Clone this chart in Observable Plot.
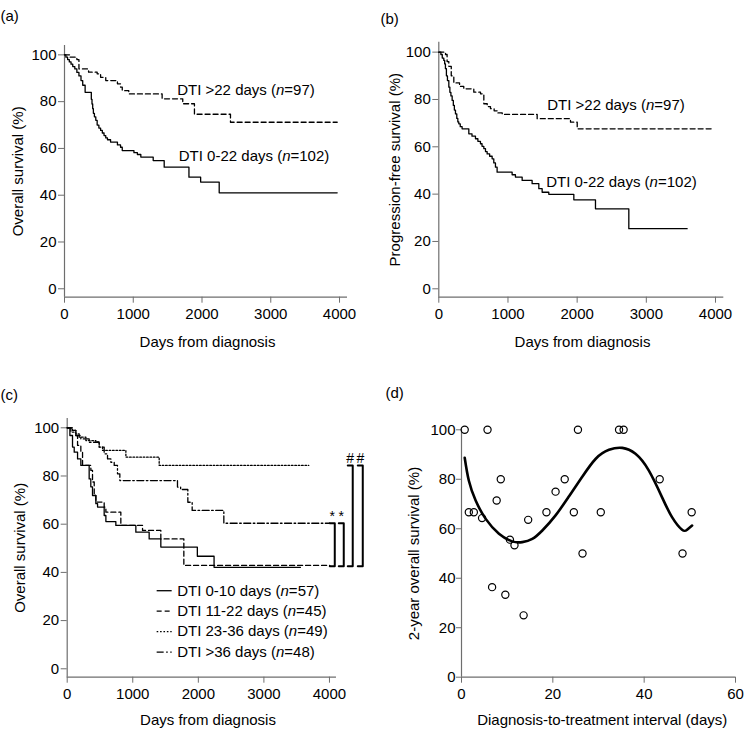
<!DOCTYPE html>
<html><head><meta charset="utf-8">
<script src="https://cdn.jsdelivr.net/npm/d3@7"></script>
<script src="https://cdn.jsdelivr.net/npm/@observablehq/plot@0.6"></script>
<style>
body{margin:0;background:#fff;}
#fig{position:relative;width:749px;height:737px;background:#fff;overflow:hidden;}
#fig svg{position:absolute;}
</style></head><body><div id="fig"></div>
<script>
// ---------- Panel (a): overall survival by DTI (2 groups) ----------
const osEarlyDays = [0, 20, 45, 70, 95, 120, 150, 180, 210, 240, 265, 300, 390, 400, 410, 420, 435, 455, 475, 500, 525, 550, 575, 600, 625, 670, 770, 815, 840, 1010, 1060, 1110, 1290, 1450, 1810, 1980, 2250, 3966];
const osEarlySurv = [100, 99, 98, 97, 96, 95, 94, 92.5, 91, 89, 87, 84, 81, 79, 77, 75, 73.5, 72, 70, 68.7, 67.7, 66.6, 65.5, 64.5, 63.7, 62.7, 61.5, 60.5, 59.1, 58.2, 57.4, 56.3, 54.8, 52, 47.7, 45.6, 41, 41];
const osLateDays = [0, 80, 180, 210, 350, 475, 525, 600, 770, 815, 840, 935, 1420, 1720, 1890, 2414, 3966];
const osLateSurv = [100, 99, 98, 94, 92.6, 91.9, 90.4, 89, 87.6, 86.2, 84.7, 83.3, 81.2, 79.1, 74.6, 71.2, 71.2];

// ---------- Panel (b): progression-free survival (2 groups) ----------
const pfsEarlyDays = [0, 30, 50, 72, 85, 96, 110, 125, 145, 160, 175, 193, 210, 225, 241, 260, 275, 289, 310, 337, 434, 480, 530, 565, 602, 625, 651, 675, 699, 735, 771, 795, 819, 843, 1060, 1108, 1205, 1349, 1446, 1494, 1590, 1952, 2265, 2747, 3590];
const pfsEarlySurv = [100, 99, 97.5, 96.5, 95, 93, 90, 88, 85.2, 83, 81.5, 79.6, 77.5, 75.5, 73.9, 72, 70.5, 69.7, 68.5, 67.6, 65.5, 64.5, 63.4, 62.3, 61.3, 60.2, 59.2, 58, 57, 56, 54.9, 53.2, 51.4, 49.3, 48.2, 47.2, 45.8, 44.4, 42.3, 40.8, 39.9, 37.6, 33.8, 25.4, 25.4];
const pfsLateDays = [0, 97, 120, 145, 180, 217, 300, 361, 506, 603, 651, 700, 747, 800, 844, 917, 1422, 1904, 2001, 3952];
const pfsLateSurv = [100, 99, 96, 94, 90, 87, 85.5, 84.5, 83.1, 82.4, 78.2, 77, 76.1, 75.2, 74.3, 73.7, 71.9, 70.4, 67.6, 67.6];

// ---------- Panel (c): overall survival by DTI quartile ----------
const q1Days = [0, 41, 81, 107, 158, 208, 335, 360, 386, 437, 463, 564, 590, 742, 1047, 1250, 1428, 1985, 2240, 3558];
const q1Surv = [100, 96.8, 92, 89.9, 87.1, 84.4, 78.8, 75.5, 71.9, 68.5, 67.1, 63.6, 61.1, 59.5, 56.7, 53.9, 50.5, 46.7, 42.1, 42.1];
const q2Days = [0, 81, 132, 158, 208, 234, 361, 386, 412, 437, 564, 590, 818, 1149, 1428, 1779, 4005];
const q2Surv = [100, 98.9, 96.8, 92.7, 89.9, 84.4, 82.3, 77.5, 71.9, 69.2, 67.1, 65.0, 59.5, 57.4, 53.9, 42.9, 42.9];
const q3Days = [0, 81, 132, 183, 285, 437, 488, 539, 895, 1403, 3684];
const q3Surv = [100, 98.9, 97.5, 96.1, 94.7, 94.1, 92, 90.6, 87.8, 84.4, 84.4];
const q4Days = [0, 56, 132, 208, 335, 488, 564, 615, 666, 717, 767, 803, 1682, 1730, 1840, 1906, 2389, 4005];
const q4Surv = [100, 98.2, 96.8, 95.4, 94, 92, 89.2, 87.1, 85.7, 84.4, 80.9, 78.1, 75.4, 74.4, 69.1, 65.7, 60.4, 60.4];
const quartileLabels = ["DTI 0-10 days (n=57)", "DTI 11-22 days (n=45)", "DTI 23-36 days (n=49)", "DTI >36 days (n=48)"];
// significance brackets: vertical position (days), top and bottom survival level, symbol
const bracketDays = [4081, 4218, 4355, 4508];
const bracketTop = [60.4, 60.4, 84.4, 84.4];
const bracketBottom = [42.5, 42.5, 42.5, 42.5];
const bracketSymbols = ["*", "*", "#", "#"];

// ---------- Panel (d): 2-year OS vs DTI ----------
const dtiDays = [0.7, 1.6, 2.7, 4.5, 5.7, 6.7, 7.7, 8.6, 9.6, 10.6, 11.6, 13.6, 14.6, 18.6, 20.6, 22.6, 24.6, 25.5, 26.5, 30.5, 34.5, 35.5, 43.4, 48.4, 50.4];
const os2yr = [100, 66.7, 66.7, 64.3, 100, 36.4, 71.4, 80, 33.3, 55.6, 53.3, 25, 63.6, 66.7, 75, 80, 66.7, 100, 50, 66.7, 100, 100, 80, 50, 66.7];
const fitDays = [0.7, 1.6, 3.1, 5.3, 8.2, 11.1, 13.3, 15.5, 17.7, 20.6, 23.5, 26.4, 29.4, 32.3, 35.2, 38.1, 41.0, 43.9, 46.1, 48.3, 49.4, 50.5];
const fitOS = [88.7, 79.5, 71.4, 64.0, 58.0, 54.9, 54.6, 55.9, 59.3, 65.4, 73.0, 80.9, 88.3, 91.9, 92.7, 90.3, 83.6, 72.8, 64.7, 59.6, 59.6, 61.3];

const kmTicks = [0, 1000, 2000, 3000, 4000];
const pctTicks = [0, 20, 40, 60, 80, 100];
const dtiTicks = [0, 20, 40, 60];

// ---------- helpers ----------
const FONT = '"Liberation Sans", Arial, Helvetica, sans-serif';
const AXIS = "#6e6e6e";
const pts = (xs, ys) => xs.map((x, i) => ({x, y: ys[i]}));

function italicN(svg) {
  svg.querySelectorAll("text").forEach(t => {
    if (t.childElementCount === 0 && t.textContent.includes("(n=")) {
      const [before, after] = t.textContent.split("(n=");
      t.textContent = "";
      t.appendChild(document.createTextNode(before + "("));
      const ts = document.createElementNS("http://www.w3.org/2000/svg", "tspan");
      ts.setAttribute("font-style", "italic");
      ts.textContent = "n";
      t.appendChild(ts);
      t.appendChild(document.createTextNode("=" + after));
    }
  });
}

function panel(cfg) {
  const {left, top, width, height, ml, mr, mt, mb, xDomain, yDomain, xAxisEnd, xTicks, yTicks,
         marks, xTitle, yTitle, xTitleX, xTitleDy, yTitleX, tag, tagX, tagBase,
         yTickSize = 6, yTickPad = 2, xTickPad = 5} = cfg;
  const svg = Plot.plot({
    width, height, marginLeft: ml, marginRight: mr, marginTop: mt, marginBottom: mb,
    x: {domain: xDomain}, y: {domain: yDomain},
    style: {fontFamily: FONT, fontSize: "15px", color: "black", background: "transparent", overflow: "visible"},
    marks: [
      Plot.ruleX([xDomain[0]], {y1: yDomain[0], y2: yDomain[1], stroke: AXIS, strokeWidth: 1.2}),
      Plot.ruleY([yDomain[0]], {x1: xDomain[0], x2: xAxisEnd, stroke: AXIS, strokeWidth: 1.2}),
      Plot.axisX(xTicks, {tickSize: 6, tickPadding: xTickPad, stroke: AXIS, fill: "black", label: null, fontSize: 15, tickFormat: d => String(d)}),
      Plot.axisY(yTicks, {tickSize: yTickSize, tickPadding: yTickPad, stroke: AXIS, fill: "black", label: null, fontSize: 15, tickFormat: d => String(d)}),
      ...marks,
      Plot.text([xTitle], {frameAnchor: "bottom-left", dx: xTitleX - ml, dy: xTitleDy, textAnchor: "middle", lineAnchor: "bottom", fontSize: 15}),
      Plot.text([yTitle], {frameAnchor: "left", rotate: -90, dx: yTitleX - ml, textAnchor: "middle", lineAnchor: "middle", fontSize: 15}),
      Plot.text([tag], {frameAnchor: "top-left", dx: tagX - ml, dy: tagBase - mt, textAnchor: "start", lineAnchor: "bottom", fontSize: 15})
    ]
  });
  svg.style.left = left + "px";
  svg.style.top = top + "px";
  italicN(svg);
  document.getElementById("fig").appendChild(svg);
}

const km = (xs, ys, dash, w = 1.3) => Plot.line(pts(xs, ys), {x: "x", y: "y", curve: "step-after", stroke: "black", strokeWidth: w, strokeDasharray: dash});
const DASH = "5,3", DOT = "1.6,1.8", DASHDOT = "7,2.5,1.6,2.5";

// (a)
panel({
  left: 0, top: 0, width: 374, height: 360, ml: 64, mr: 27, mt: 45, mb: 63.3,
  xDomain: [0, 4116], yDomain: [-3.6, 104], xAxisEnd: 4116, xTicks: kmTicks, yTicks: pctTicks,
  marks: [
    km(osEarlyDays, osEarlySurv, null),
    km(osLateDays, osLateSurv, DASH),
    Plot.text(["DTI >22 days (n=97)"], {x: 1639, y: 82.9, textAnchor: "start", lineAnchor: "bottom", fontSize: 15}),
    Plot.text(["DTI 0-22 days (n=102)"], {x: 1662, y: 54.5, textAnchor: "start", lineAnchor: "bottom", fontSize: 15})
  ],
  xTitle: "Days from diagnosis", yTitle: "Overall survival (%)",
  xTitleX: 207, xTitleDy: 50, yTitleX: 18, tag: "(a)", tagX: 0, tagBase: 20
});

// (b)
panel({
  left: 375, top: 0, width: 374, height: 360, ml: 63.3, mr: 25.7, mt: 41.7, mb: 63.3,
  xDomain: [0, 4120], yDomain: [-3.55, 104.2], xAxisEnd: 4120, xTicks: kmTicks, yTicks: pctTicks,
  marks: [
    km(pfsEarlyDays, pfsEarlySurv, null),
    km(pfsLateDays, pfsLateSurv, DASH),
    Plot.text(["DTI >22 days (n=97)"], {x: 1567, y: 75.4, textAnchor: "start", lineAnchor: "bottom", fontSize: 15}),
    Plot.text(["DTI 0-22 days (n=102)"], {x: 1553, y: 43.2, textAnchor: "start", lineAnchor: "bottom", fontSize: 15})
  ],
  xTitle: "Days from diagnosis", yTitle: "Progression-free survival (%)",
  xTitleX: 207, xTitleDy: 50, yTitleX: 20, tag: "(b)", tagX: 5, tagBase: 23
});

// (c)
const qDays = [q1Days, q2Days, q3Days, q4Days];
const qSurv = [q1Surv, q2Surv, q3Surv, q4Surv];
const qDash = [null, DASH, DOT, DASHDOT];
const legendY = [32.4, 23.9, 15.4, 6.9];
const legX1 = 1372, legX2 = 1601, legTextX = 1677, tickW = 76;
const cMarks = [];
qDays.forEach((d, i) => {
  cMarks.push(km(d, qSurv[i], qDash[i]));
  cMarks.push(Plot.ruleY([legendY[i]], {x1: legX1, x2: legX2, stroke: "black", strokeWidth: 1.3, strokeDasharray: qDash[i]}));
});
cMarks.push(Plot.text(quartileLabels, {x: legTextX, y: (d, i) => legendY[i], textAnchor: "start", lineAnchor: "middle", fontSize: 15}));
const brackets = bracketDays.flatMap((b, i) => [
  {x: b - tickW, y: bracketTop[i], k: i}, {x: b, y: bracketTop[i], k: i},
  {x: b, y: bracketBottom[i], k: i}, {x: b - tickW, y: bracketBottom[i], k: i}
]);
cMarks.push(Plot.line(brackets, {x: "x", y: "y", z: "k", stroke: "black", strokeWidth: 2}));
cMarks.push(Plot.text(bracketSymbols, {x: (d, i) => bracketDays[i] - tickW / 2, y: (d, i) => bracketTop[i], textAnchor: "middle", lineAnchor: "bottom", dy: -2, fontSize: 14}));
panel({
  left: 0, top: 370, width: 374, height: 367, ml: 66.7, mr: 5.7, mt: 48, mb: 60.3,
  xDomain: [0, 4600], yDomain: [-3.49, 103.86], xAxisEnd: 4107, xTicks: kmTicks, yTicks: pctTicks,
  marks: cMarks,
  xTitle: "Days from diagnosis", yTitle: "Overall survival (%)",
  xTitleX: 207.5, xTitleDy: 47.3, yTitleX: 20, tag: "(c)", tagX: 0, tagBase: 29
});

// (d)
panel({
  left: 375, top: 370, width: 374, height: 367, ml: 86, mr: 14, mt: 59.3, mb: 60.3,
  xDomain: [0, 60], yDomain: [0, 100], xAxisEnd: 60, xTicks: dtiTicks, yTicks: pctTicks,
  yTickSize: 5, yTickPad: 1,
  marks: [
    Plot.line(pts(fitDays, fitOS), {x: "x", y: "y", curve: "natural", stroke: "black", strokeWidth: 2.6}),
    Plot.dot(pts(dtiDays, os2yr), {x: "x", y: "y", r: 3.6, stroke: "black", strokeWidth: 1.2, fill: "none"})
  ],
  xTitle: "Diagnosis-to-treatment interval (days)", yTitle: "2-year overall survival (%)",
  xTitleX: 226.7, xTitleDy: 47.3, yTitleX: 38.3, tag: "(d)", tagX: 10, tagBase: 27
});
</script></body></html>
